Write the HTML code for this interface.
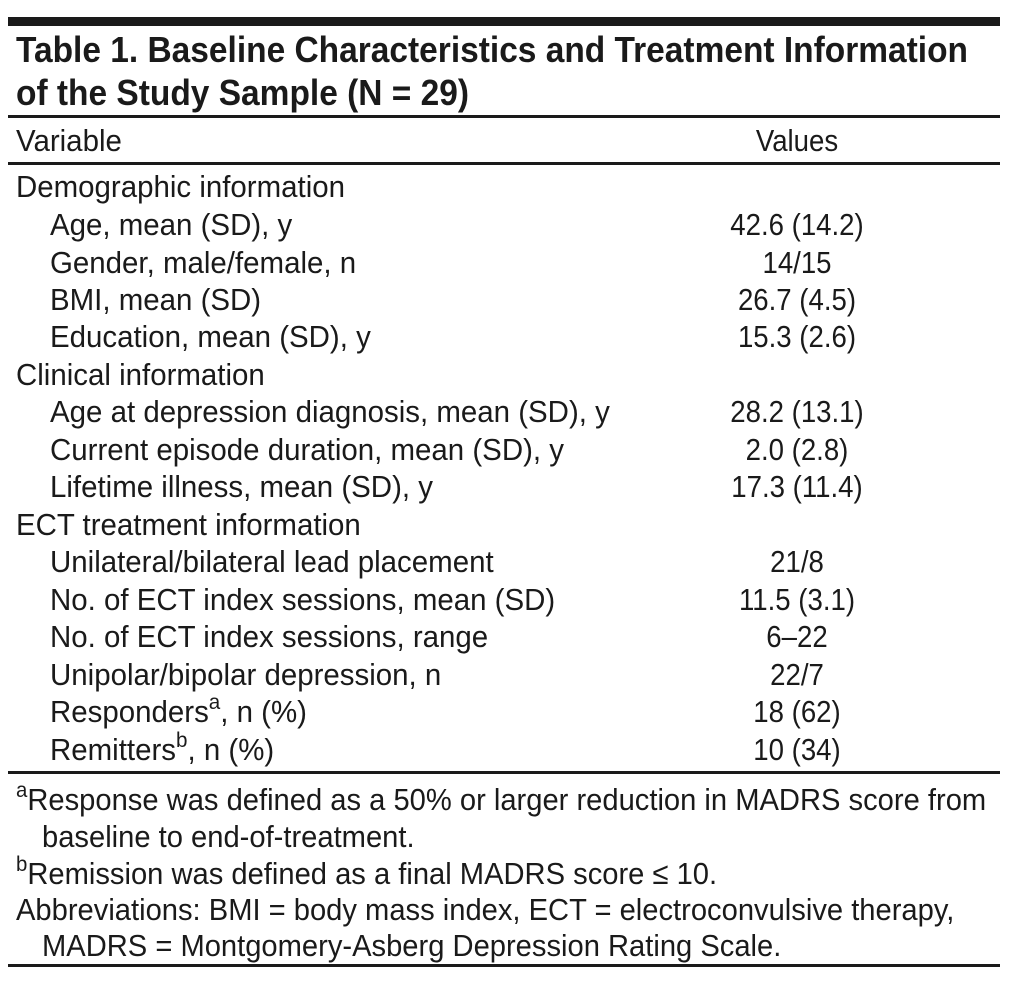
<!DOCTYPE html>
<html><head><meta charset="utf-8"><style>
html,body{margin:0;padding:0;background:#fff;width:1023px;height:987px;overflow:hidden}
body{position:relative;font-family:"Liberation Sans",sans-serif;color:#1a1a1a}
.l{position:absolute;white-space:nowrap;font-size:31px;line-height:36px;transform:scaleX(0.95);transform-origin:left center}
.f{transform:scaleX(0.94)}
.v{position:absolute;white-space:nowrap;font-size:31px;line-height:36px;transform:translateX(-50%) scaleX(0.89);transform-origin:center center;left:797px}
.t{font-weight:bold;font-size:36px;line-height:40px;transform:scaleX(0.93)}
.hr{position:absolute;left:8px;width:992px;background:#1a1a1a}
sup{font-size:70%;line-height:0;vertical-align:0.6em}
</style></head><body>
<div class="hr" style="top:17px;height:9px"></div>
<div class="l t" style="left:16px;top:30px">Table 1. Baseline Characteristics and Treatment Information</div>
<div class="l t" style="left:16px;top:73px">of the Study Sample (N = 29)</div>
<div class="hr" style="top:115px;height:3px"></div>
<div class="l" style="left:16px;top:123px">Variable</div>
<div class="v" style="top:123px">Values</div>
<div class="hr" style="top:162px;height:3px"></div>
<div class="l" style="left:16px;top:169px">Demographic information</div>
<div class="l" style="left:50px;top:207px">Age, mean (SD), y</div><div class="v" style="top:207px">42.6 (14.2)</div>
<div class="l" style="left:50px;top:245px">Gender, male/female, n</div><div class="v" style="top:245px">14/15</div>
<div class="l" style="left:50px;top:282px">BMI, mean (SD)</div><div class="v" style="top:282px">26.7 (4.5)</div>
<div class="l" style="left:50px;top:319px">Education, mean (SD), y</div><div class="v" style="top:319px">15.3 (2.6)</div>
<div class="l" style="left:16px;top:357px">Clinical information</div>
<div class="l" style="left:50px;top:394px">Age at depression diagnosis, mean (SD), y</div><div class="v" style="top:394px">28.2 (13.1)</div>
<div class="l" style="left:50px;top:432px">Current episode duration, mean (SD), y</div><div class="v" style="top:432px">2.0 (2.8)</div>
<div class="l" style="left:50px;top:469px">Lifetime illness, mean (SD), y</div><div class="v" style="top:469px">17.3 (11.4)</div>
<div class="l" style="left:16px;top:507px">ECT treatment information</div>
<div class="l" style="left:50px;top:544px">Unilateral/bilateral lead placement</div><div class="v" style="top:544px">21/8</div>
<div class="l" style="left:50px;top:582px">No. of ECT index sessions, mean (SD)</div><div class="v" style="top:582px">11.5 (3.1)</div>
<div class="l" style="left:50px;top:619px">No. of ECT index sessions, range</div><div class="v" style="top:619px">6–22</div>
<div class="l" style="left:50px;top:657px">Unipolar/bipolar depression, n</div><div class="v" style="top:657px">22/7</div>
<div class="l" style="left:50px;top:694px">Responders<sup>a</sup>, n (%)</div><div class="v" style="top:694px">18 (62)</div>
<div class="l" style="left:50px;top:732px">Remitters<sup>b</sup>, n (%)</div><div class="v" style="top:732px">10 (34)</div>
<div class="hr" style="top:771px;height:3px"></div>
<div class="l f" style="left:16px;top:782px"><sup>a</sup>Response was defined as a 50% or larger reduction in MADRS score from</div>
<div class="l f" style="left:42px;top:819px">baseline to end-of-treatment.</div>
<div class="l f" style="left:16px;top:856px"><sup>b</sup>Remission was defined as a final MADRS score ≤ 10.</div>
<div class="l f" style="left:16px;top:892px">Abbreviations: BMI = body mass index, ECT = electroconvulsive therapy,</div>
<div class="l f" style="left:42px;top:928px">MADRS = Montgomery-Asberg Depression Rating Scale.</div>
<div class="hr" style="top:964px;height:3px"></div>
</body></html>
